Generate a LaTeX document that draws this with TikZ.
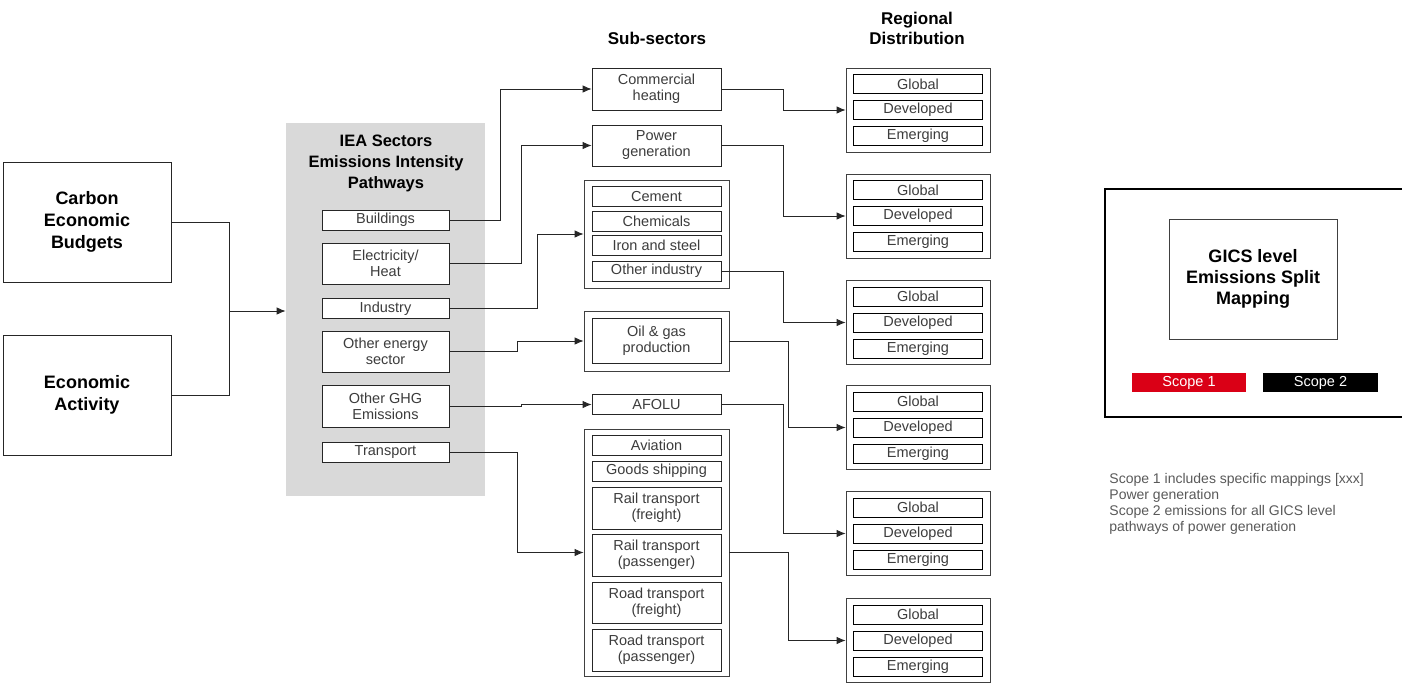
\documentclass[tikz,border=0pt]{standalone}
\usepackage{fontspec}
\setmainfont{Liberation Sans}
\usetikzlibrary{arrows.meta}
\definecolor{txtgray}{RGB}{60,60,60}
\definecolor{panelgray}{RGB}{217,217,217}
\definecolor{scopered}{RGB}{218,0,22}

\begin{document}
\begin{tikzpicture}[x=1pt,y=-1pt,
    line width=0.8pt,
    arr/.style={draw=black!85,line width=0.8pt,-{Latex[length=9pt,width=7.5pt]}},
    wire/.style={draw=black!85,line width=0.8pt},
    cell/.style={draw=black!85,minimum width=127pt,inner sep=0pt,align=center,text=txtgray,font=\fontsize{14.5}{16}\selectfont},
    group/.style={draw=black!75,minimum width=145pt,inner sep=0pt},
    head/.style={align=center,font=\bfseries\fontsize{17}{20}\selectfont},
    bigbox/.style={draw=black!85,minimum width=168pt,minimum height=120pt,inner sep=0pt,align=center,font=\bfseries\fontsize{18}{22}\selectfont}]
  \useasboundingbox (0,0) rectangle (1402,686);
  % inputs
  \node[bigbox] (ceb) at (87,222) {Carbon\\Economic\\Budgets};
  \node[bigbox] (eca) at (87,395) {Economic\\Activity};
  \coordinate (join) at (229,311);
  % IEA panel
  \node[fill=panelgray,minimum width=199pt,minimum height=373pt,inner sep=0pt] (panel) at (385.5,309.5) {};
  \node[head,font=\bfseries\fontsize{16.5}{21}\selectfont] (paneltitle) at (386,163) {IEA Sectors\\Emissions Intensity\\Pathways};
  \node[cell,fill=white,minimum height=20pt] (bld) at (385.5,220) {Buildings};
  \node[cell,fill=white,minimum height=41pt] (ele) at (385.5,263.5) {Electricity/\\Heat};
  \node[cell,fill=white,minimum height=20pt] (ind) at (385.5,308.5) {Industry};
  \node[cell,fill=white,minimum height=41pt] (oes) at (385.5,351.5) {Other energy\\sector};
  \node[cell,fill=white,minimum height=42pt] (ghg) at (385.5,406.5) {Other GHG\\Emissions};
  \node[cell,fill=white,minimum height=20pt] (trn) at (385.5,452) {Transport};
  % sub-sectors
  \node[head] (subhead) at (657,38) {Sub-sectors};
  \node[cell,minimum width=129pt,minimum height=42pt] (com) at (656.5,89) {Commercial\\heating};
  \node[cell,minimum width=129pt,minimum height=41pt] (pow) at (656.5,145.5) {Power\\generation};
  \node[group,minimum height=108pt] (indgrp) at (656.5,234) {};
  \node[cell,minimum width=129pt,minimum height=20pt] (cem) at (656.5,196.5) {Cement};
  \node[cell,minimum width=129pt,minimum height=20pt] (chm) at (656.5,221) {Chemicals};
  \node[cell,minimum width=129pt,minimum height=20pt] (irn) at (656.5,245.5) {Iron and steel};
  \node[cell,minimum width=129pt,minimum height=20pt] (oin) at (656.5,271) {Other industry};
  \node[group,minimum height=60pt] (oilgrp) at (656.5,341) {};
  \node[cell,minimum width=129pt,minimum height=45pt] (oil) at (656.5,340.5) {Oil \& gas\\production};
  \node[cell,minimum width=129pt,minimum height=20pt] (afo) at (656.5,404.5) {AFOLU};
  \node[group,minimum height=247pt] (trngrp) at (656.5,552.5) {};
  \node[cell,minimum width=129pt,minimum height=20pt] (avi) at (656.5,445) {Aviation};
  \node[cell,minimum width=129pt,minimum height=20pt] (gds) at (656.5,471) {Goods shipping};
  \node[cell,minimum width=129pt,minimum height=42pt] (rlf) at (656.5,508) {Rail transport\\(freight)};
  \node[cell,minimum width=129pt,minimum height=42pt] (rlp) at (656.5,555) {Rail transport\\(passenger)};
  \node[cell,minimum width=129pt,minimum height=41pt] (rdf) at (656.5,602.5) {Road transport\\(freight)};
  \node[cell,minimum width=129pt,minimum height=42pt] (rdp) at (656.5,650) {Road transport\\(passenger)};
  % regional distribution
  \node[head] (reghead) at (917,28) {Regional\\Distribution};
  \foreach \i/\y in {1/110,2/216,3/322.5,4/427.5,5/533.5,6/640.5} {
    \node[group,minimum width=144pt,minimum height=84pt] (reg\i) at (918,\y) {};
    \node[cell,draw=black,minimum width=129pt,minimum height=19pt] (reg\i g) at (918,\y-26) {Global};
    \node[cell,draw=black,minimum width=129pt,minimum height=19pt] (reg\i d) at (918,\y) {Developed};
    \node[cell,draw=black,minimum width=129pt,minimum height=19pt] (reg\i e) at (918,\y+26) {Emerging};
  }
  % connectors
  \draw[wire] (ceb.east) -| (join);
  \draw[wire] (eca.east) -| (join);
  \draw[arr] (join) -- (join -| panel.west);
  \draw[arr] (bld.east) -- ++(51,0) |- (com.west);
  \draw[arr] (ele.east) -- ++(72,0) |- (pow.west);
  \draw[arr] (ind.east) -- ++(88,0) |- (indgrp.west);
  \draw[arr] (oes.east) -- ++(68,0) |- (oilgrp.west);
  \draw[arr] (ghg.east) -- ++(72,0) |- (afo.west);
  \draw[arr] (trn.east) -- ++(68,0) |- (trngrp.west);
  \draw[arr] (com.east) -- ++(62,0) |- (reg1.west);
  \draw[arr] (pow.east) -- ++(62,0) |- (reg2.west);
  \draw[arr] (oin.east) -- ++(62,0) |- (reg3.west);
  \draw[arr] (oilgrp.east) -- ++(59,0) |- (reg4.west);
  \draw[arr] (afo.east) -- ++(62,0) |- (reg5.west);
  \draw[arr] (trngrp.east) -- ++(59,0) |- (reg6.west);
  % GICS mapping
  \draw[line width=1.8pt] (1406,189) -- (1105,189) -- (1105,417) -- (1406,417);
  \node[draw=black!75,minimum width=168pt,minimum height=120pt,inner sep=0pt,align=center,font=\bfseries\fontsize{18}{21}\selectfont] (gics) at (1253,279) {GICS level\\Emissions Split\\Mapping};
  \node[fill=scopered,text=white,minimum width=114pt,minimum height=19pt,inner sep=0pt,font=\fontsize{14.5}{16}\selectfont] (scope1) at (1189,382.5) {Scope 1};
  \node[fill=black,text=white,minimum width=115pt,minimum height=19pt,inner sep=0pt,font=\fontsize{14.5}{16}\selectfont] (scope2) at (1320.5,382.5) {Scope 2};
  \node[anchor=north west,align=left,inner sep=0pt,text=black!65,font=\fontsize{14}{16}\selectfont] (notes) at (1109,473) {Scope 1 includes specific mappings [xxx]\\Power generation\\Scope 2 emissions for all GICS level\\pathways of power generation};
\end{tikzpicture}
\end{document}
